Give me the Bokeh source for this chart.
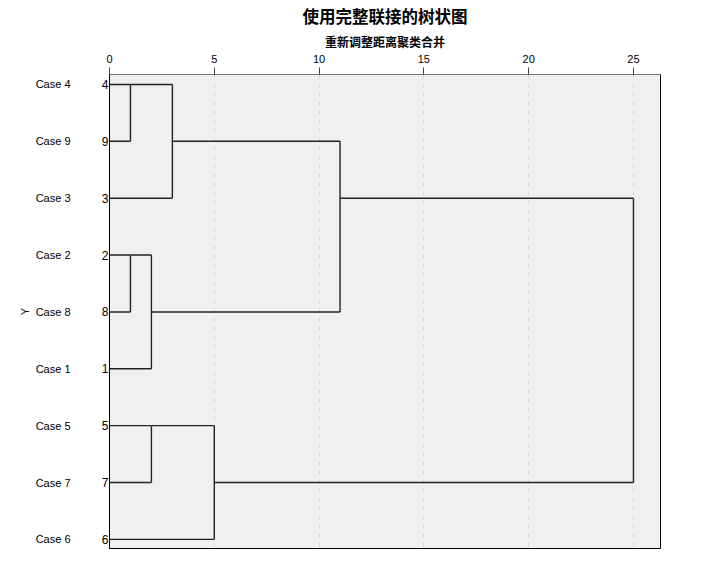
from bokeh.plotting import figure
from bokeh.models import Range1d, FixedTicker, LinearAxis, ColumnDataSource
from bokeh.embed import file_html
from bokeh.resources import INLINE
import math

# Leaves in dendrogram order (top to bottom)
case_labels = ["Case 4", "Case 9", "Case 3", "Case 2", "Case 8", "Case 1", "Case 5", "Case 7", "Case 6"]
case_ids = ["4", "9", "3", "2", "8", "1", "5", "7", "6"]

# Merges (scipy-like: leaves 0..8 are rows, new nodes numbered 9, 10, ...)
merge_a = [0, 3, 10, 6, 9, 12, 13, 15]
merge_b = [1, 4, 5, 7, 2, 8, 11, 14]
merge_height = [1, 1, 2, 2, 3, 5, 11, 25]

x_ticks = [0, 5, 10, 15, 20, 25]

# Build segments
n = len(case_ids)
pos = {i: i for i in range(n)}
hgt = {i: 0 for i in range(n)}
x0, y0, x1, y1 = [], [], [], []
for k, (a, b, h) in enumerate(zip(merge_a, merge_b, merge_height)):
    node = n + k
    for c in (a, b):
        x0.append(hgt[c]); y0.append(pos[c]); x1.append(h); y1.append(pos[c])
    x0.append(h); y0.append(pos[a]); x1.append(h); y1.append(pos[b])
    pos[node] = math.floor((pos[a] + pos[b]) / 2)
    hgt[node] = h

src = ColumnDataSource(dict(x0=x0, y0=y0, x1=x1, y1=y1))

p = figure(width=720, height=571, output_backend="svg", toolbar_location=None,
           x_axis_location="above", y_axis_location="left",
           x_range=Range1d(0, 26.29), y_range=Range1d(8.16, -0.175),
           min_border_left=109, min_border_right=60, min_border_top=74, min_border_bottom=23,
           title="使用完整联接的树状图")

p.background_fill_color = "#f0f0f0"
p.border_fill_color = "white"
p.outline_line_color = "black"
p.outline_line_width = 1

p.title.align = "center"
p.title.text_font = "Noto Sans CJK SC"
p.title.text_font_size = "16.5px"
p.title.text_font_style = "bold"
p.title.text_color = "black"
p.title.standoff = 3

# top axis
xa = p.xaxis[0]
xa.ticker = FixedTicker(ticks=x_ticks)
xa.axis_label = "重新调整距离聚类合并"
xa.axis_label_text_font = "Noto Sans CJK SC"
xa.axis_label_text_font_size = "12px"
xa.axis_label_text_font_style = "bold"
xa.axis_label_text_color = "black"
xa.axis_label_standoff = 2
xa.major_label_text_font = "Liberation Sans"
xa.major_label_text_font_size = "11px"
xa.major_label_text_color = "black"
xa.major_label_standoff = 5
xa.major_tick_out = 7
xa.major_tick_in = 0
xa.major_tick_line_color = "#444444"
xa.minor_tick_line_color = None
xa.axis_line_color = "#777777"

# left axis with case numbers
ya = p.yaxis[0]
ya.ticker = FixedTicker(ticks=list(range(n)))
ya.major_label_overrides = {i: s for i, s in enumerate(case_ids)}
ya.major_label_text_font = "Liberation Sans"
ya.major_label_text_font_size = "12px"
ya.major_label_text_color = "black"
ya.major_label_standoff = 1
ya.major_tick_out = 0
ya.major_tick_in = 0
ya.major_tick_line_color = None
ya.minor_tick_line_color = None
ya.axis_line_color = "black"

# outer left axis with case labels
ya2 = LinearAxis(ticker=FixedTicker(ticks=list(range(n))),
                 major_label_overrides={i: s for i, s in enumerate(case_labels)})
ya2.major_label_text_font = "Liberation Sans"
ya2.major_label_text_font_size = "11px"
ya2.major_label_text_color = "black"
ya2.major_label_standoff = 28
ya2.major_tick_out = 0
ya2.major_tick_in = 0
ya2.major_tick_line_color = None
ya2.minor_tick_line_color = None
ya2.axis_line_color = None
ya2.axis_label = "Y"
ya2.axis_label_text_font = "Liberation Sans"
ya2.axis_label_text_font_size = "11px"
ya2.axis_label_text_font_style = "normal"
ya2.axis_label_text_color = "black"
ya2.axis_label_standoff = 2
p.add_layout(ya2, "left")

p.ygrid.grid_line_color = None
p.xgrid.ticker = FixedTicker(ticks=x_ticks[1:])
p.xgrid.grid_line_color = "#d4d4d4"
p.xgrid.grid_line_dash = "4 5"
p.xgrid.grid_line_width = 1

p.segment(x0="x0", y0="y0", x1="x1", y1="y1", source=src, line_color="#222222", line_width=1.4)

open("out.html", "w").write(file_html(p, INLINE))
